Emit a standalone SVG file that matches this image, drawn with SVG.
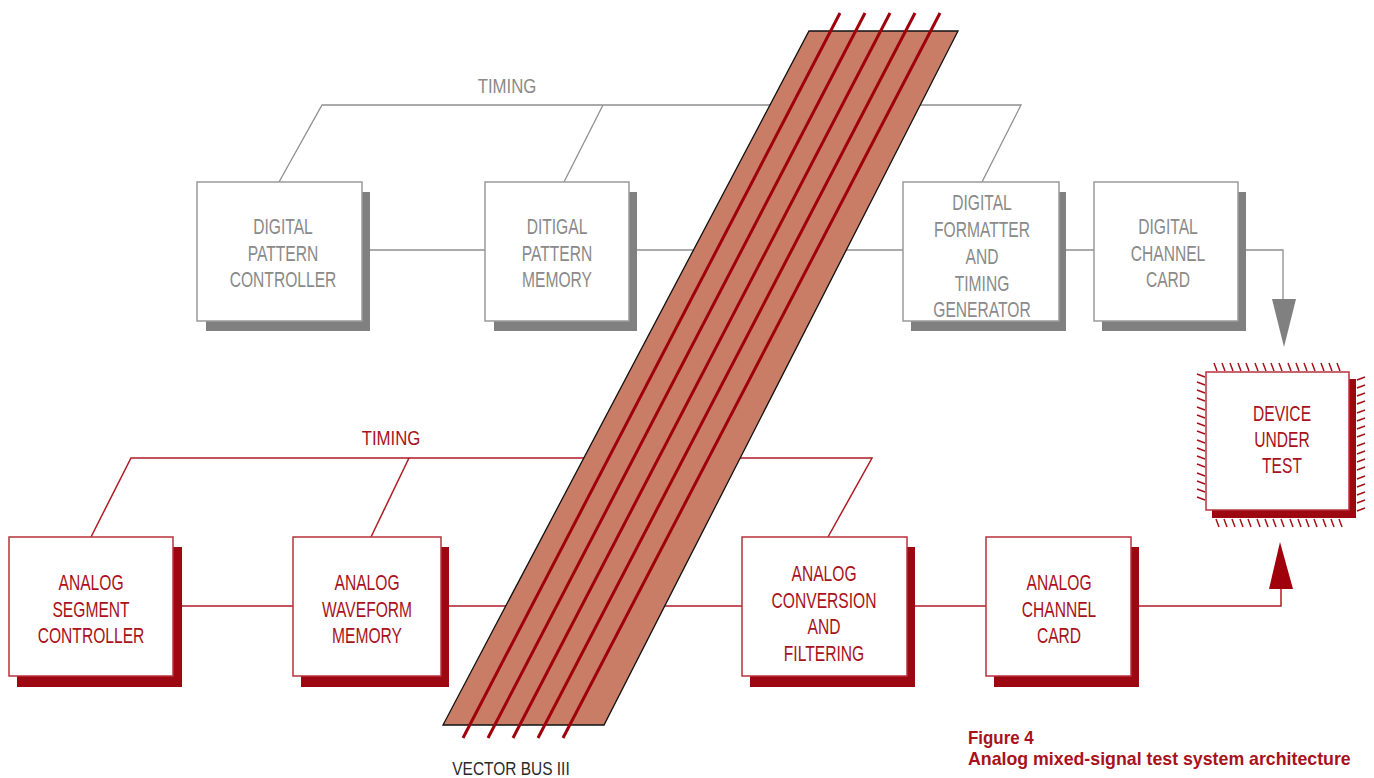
<svg xmlns="http://www.w3.org/2000/svg" width="1374" height="778" viewBox="0 0 1374 778">
  <style>
    .lbl { font-family: "Liberation Sans", Arial, sans-serif; font-size: 22px; text-anchor: middle; }
    .tim { font-family: "Liberation Sans", Arial, sans-serif; font-size: 21px; text-anchor: middle; }
    .g-txt { fill: #8a8a8a; }
    .r-txt { fill: #a8121c; }
    .g-box { fill: #ffffff; stroke: #9a9a9a; stroke-width: 1.5; }
    .g-shd { fill: #808080; }
    .r-box { fill: #ffffff; stroke: #b8323c; stroke-width: 1.5; }
    .r-shd { fill: #9c0711; }
    .g-wire { fill: none; stroke: #8f8f8f; stroke-width: 1.3; }
    .r-wire { fill: none; stroke: #b01a24; stroke-width: 1.5; }
    .bus { fill: #c97c66; stroke: #111111; stroke-width: 1.3; }
    .bus-line { stroke: #a0000c; stroke-width: 3; }
    .pin { stroke: #a8121c; stroke-width: 1.5; }
    .cap { font-family: "Liberation Sans", Arial, sans-serif; font-weight: bold; font-size: 19px; fill: #a8121c; }
  </style>

  <!-- wiring, drawn beneath the bus and the blocks -->
  <g id="connectors">
    <!-- digital timing rail -->
    <polyline class="g-wire" points="279,182 322,105 1021,105 982,182"/>
    <line class="g-wire" x1="603" y1="105" x2="564" y2="182"/>
    <!-- digital data path -->
    <line class="g-wire" x1="362" y1="250" x2="485" y2="250"/>
    <line class="g-wire" x1="629" y1="250" x2="903" y2="250"/>
    <line class="g-wire" x1="1059" y1="250" x2="1094" y2="250"/>
    <polyline class="g-wire" points="1238,250 1283,250 1283,300"/>
    <polygon fill="#808080" points="1272,299 1296,299 1284,347"/>
    <!-- analog timing rail -->
    <polyline class="r-wire" points="91,537 131,458 872,458 828,537"/>
    <line class="r-wire" x1="409" y1="458" x2="371" y2="537"/>
    <!-- analog data path -->
    <line class="r-wire" x1="173" y1="606" x2="293" y2="606"/>
    <line class="r-wire" x1="441" y1="606" x2="742" y2="606"/>
    <line class="r-wire" x1="907" y1="606" x2="986" y2="606"/>
    <polyline class="r-wire" points="1131,606 1281,606 1281,588"/>
    <polygon fill="#a0000c" points="1269,589 1293,589 1280,542"/>
  </g>

  <!-- Vector Bus III -->
  <g id="vector-bus">
    <polygon class="bus" points="809,31 958,31 604,725 443,725"/>
    <line class="bus-line" x1="840" y1="13" x2="463" y2="738"/>
    <line class="bus-line" x1="865" y1="13" x2="488" y2="738"/>
    <line class="bus-line" x1="890" y1="13" x2="513" y2="738"/>
    <line class="bus-line" x1="915" y1="13" x2="538" y2="738"/>
    <line class="bus-line" x1="940" y1="13" x2="563" y2="738"/>
    <g transform="translate(511 0) scale(0.86 1)">
      <text x="0" y="775" style="font-family:'Liberation Sans',Arial,sans-serif;font-size:18px;fill:#2a2a2a;text-anchor:middle">VECTOR BUS III</text>
    </g>
  </g>

  <g id="timing-digital">
    <g transform="translate(507 0) scale(0.8 1)"><text class="tim g-txt" x="0" y="93">TIMING</text></g>
  </g>
  <g id="timing-analog">
    <g transform="translate(391 0) scale(0.8 1)"><text class="tim r-txt" x="0" y="445">TIMING</text></g>
  </g>

  <!-- digital blocks -->
  <g id="digital-pattern-controller">
    <rect class="g-shd" x="206" y="192" width="164" height="139"/>
    <rect class="g-box" x="197" y="182" width="165" height="139"/>
    <g class="lbl g-txt" transform="translate(283 0) scale(0.71 1)">
      <text x="0" y="234">DIGITAL</text>
      <text x="0" y="261">PATTERN</text>
      <text x="0" y="287">CONTROLLER</text>
    </g>
  </g>
  <g id="digital-pattern-memory">
    <rect class="g-shd" x="494" y="192" width="143" height="139"/>
    <rect class="g-box" x="485" y="182" width="144" height="139"/>
    <g class="lbl g-txt" transform="translate(557 0) scale(0.71 1)">
      <text x="0" y="234">DITIGAL</text>
      <text x="0" y="261">PATTERN</text>
      <text x="0" y="287">MEMORY</text>
    </g>
  </g>
  <g id="digital-formatter">
    <rect class="g-shd" x="911" y="192" width="155" height="139"/>
    <rect class="g-box" x="903" y="182" width="156" height="139"/>
    <g class="lbl g-txt" transform="translate(982 0) scale(0.71 1)">
      <text x="0" y="210">DIGITAL</text>
      <text x="0" y="237">FORMATTER</text>
      <text x="0" y="264">AND</text>
      <text x="0" y="291">TIMING</text>
      <text x="0" y="317">GENERATOR</text>
    </g>
  </g>
  <g id="digital-channel-card">
    <rect class="g-shd" x="1102" y="192" width="144" height="139"/>
    <rect class="g-box" x="1094" y="182" width="144" height="139"/>
    <g class="lbl g-txt" transform="translate(1168 0) scale(0.71 1)">
      <text x="0" y="234">DIGITAL</text>
      <text x="0" y="261">CHANNEL</text>
      <text x="0" y="287">CARD</text>
    </g>
  </g>

  <!-- analog blocks -->
  <g id="analog-segment-controller">
    <rect class="r-shd" x="17" y="547" width="165" height="140"/>
    <rect class="r-box" x="9" y="537" width="164" height="139"/>
    <g class="lbl r-txt" transform="translate(91 0) scale(0.71 1)">
      <text x="0" y="590">ANALOG</text>
      <text x="0" y="617">SEGMENT</text>
      <text x="0" y="643">CONTROLLER</text>
    </g>
  </g>
  <g id="analog-waveform-memory">
    <rect class="r-shd" x="301" y="547" width="148" height="140"/>
    <rect class="r-box" x="293" y="537" width="148" height="139"/>
    <g class="lbl r-txt" transform="translate(367 0) scale(0.71 1)">
      <text x="0" y="590">ANALOG</text>
      <text x="0" y="617">WAVEFORM</text>
      <text x="0" y="643">MEMORY</text>
    </g>
  </g>
  <g id="analog-conversion">
    <rect class="r-shd" x="750" y="547" width="165" height="140"/>
    <rect class="r-box" x="742" y="537" width="165" height="139"/>
    <g class="lbl r-txt" transform="translate(824 0) scale(0.71 1)">
      <text x="0" y="581">ANALOG</text>
      <text x="0" y="608">CONVERSION</text>
      <text x="0" y="634">AND</text>
      <text x="0" y="661">FILTERING</text>
    </g>
  </g>
  <g id="analog-channel-card">
    <rect class="r-shd" x="994" y="547" width="145" height="140"/>
    <rect class="r-box" x="986" y="537" width="145" height="139"/>
    <g class="lbl r-txt" transform="translate(1059 0) scale(0.71 1)">
      <text x="0" y="590">ANALOG</text>
      <text x="0" y="617">CHANNEL</text>
      <text x="0" y="643">CARD</text>
    </g>
  </g>

  <!-- device under test with its pin fringe -->
  <g id="device-under-test">
    <g id="dut-pins" class="pin">
      <path d="M1214,363 l3,8 M1222,363 l3,8 M1230,363 l3,8 M1238,363 l3,8 M1246,363 l3,8 M1255,363 l3,8 M1263,363 l3,8 M1271,363 l3,8 M1279,363 l3,8 M1288,363 l3,8 M1296,363 l3,8 M1304,363 l3,8 M1312,363 l3,8 M1321,363 l3,8 M1329,363 l3,8 M1337,363 l3,8"/>
      <path d="M1216,519 l3,8 M1224,519 l3,8 M1232,519 l3,8 M1240,519 l3,8 M1248,519 l3,8 M1257,519 l3,8 M1265,519 l3,8 M1273,519 l3,8 M1281,519 l3,8 M1290,519 l3,8 M1298,519 l3,8 M1306,519 l3,8 M1314,519 l3,8 M1323,519 l3,8 M1331,519 l3,8 M1339,519 l3,8"/>
      <path d="M1197,374 l8,3 M1197,382 l8,3 M1197,390 l8,3 M1197,398 l8,3 M1197,407 l8,3 M1197,415 l8,3 M1197,423 l8,3 M1197,431 l8,3 M1197,440 l8,3 M1197,448 l8,3 M1197,456 l8,3 M1197,464 l8,3 M1197,473 l8,3 M1197,481 l8,3 M1197,489 l8,3 M1197,497 l8,3"/>
      <path d="M1357,380 l8,-3 M1357,388 l8,-3 M1357,396 l8,-3 M1357,404 l8,-3 M1357,413 l8,-3 M1357,421 l8,-3 M1357,429 l8,-3 M1357,437 l8,-3 M1357,446 l8,-3 M1357,454 l8,-3 M1357,462 l8,-3 M1357,470 l8,-3 M1357,479 l8,-3 M1357,487 l8,-3 M1357,495 l8,-3 M1357,503 l8,-3 M1357,511 l8,-3"/>
    </g>
    <rect class="r-shd" x="1212" y="379" width="144" height="139"/>
    <rect class="r-box" x="1206" y="372" width="143" height="138"/>
    <g class="lbl r-txt" transform="translate(1282 0) scale(0.71 1)">
      <text x="0" y="421">DEVICE</text>
      <text x="0" y="447">UNDER</text>
      <text x="0" y="473">TEST</text>
    </g>
  </g>

  <g id="caption">
    <g transform="translate(968 0) scale(0.89 1)"><text class="cap" x="0" y="744">Figure 4</text></g>
    <g transform="translate(968 0) scale(0.935 1)"><text class="cap" x="0" y="765">Analog mixed-signal test system architecture</text></g>
  </g>
</svg>
